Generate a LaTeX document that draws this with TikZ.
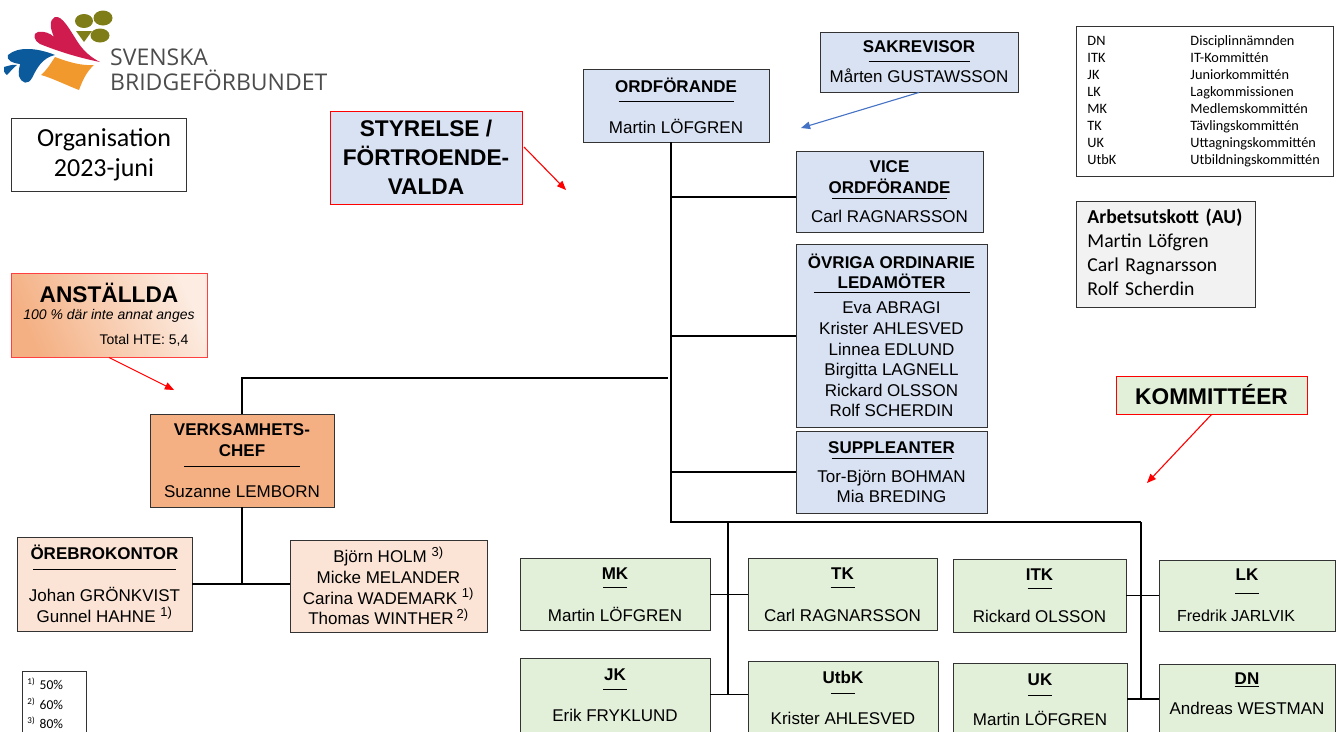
\documentclass[tikz,border=0pt]{standalone}
\usepackage{fontspec}
\setmainfont{Liberation Sans}
\newfontfamily\carlito{Carlito}
\newfontfamily\logofont{Open Sans}
\usepackage{tikz}
\usetikzlibrary{arrows}
\definecolor{blue1}{HTML}{D9E2F3}
\definecolor{blue2}{HTML}{4472C4}
\definecolor{green1}{HTML}{E2EFD9}
\definecolor{peach1}{HTML}{FBE4D5}
\definecolor{peach2}{HTML}{F4B083}
\definecolor{logoolive}{HTML}{7F7D18}
\definecolor{logored}{HTML}{CF1B4E}
\definecolor{logoblue}{HTML}{0B5A9C}
\definecolor{logoorange}{HTML}{F2992E}
\newcommand{\hd}[4]{#1\\[#2pt]\rule{#3pt}{0.8pt}\\[#4pt]}
\newcommand{\sps}[1]{\textsuperscript{\fontsize{9}{9}\selectfont #1)}}
\newcommand{\spt}[1]{\textsuperscript{\fontsize{13}{13}\selectfont #1)}}

\begin{document}
\begin{tikzpicture}
		[x=1pt,y=-1pt,
		b/.style= {rectangle,draw=black!80,line width=0.9pt,inner sep=0pt,align=center,font=\fontsize{17}{20.6}\selectfont},
		bb/.style= {b,fill=blue1},
		bg/.style= {b,fill=green1},
		bp/.style= {b,fill=peach1},
		tag/.style= {b,draw=red,font=\fontsize{22.7}{29}\selectfont\bfseries},
		cal/.style= {rectangle,draw=black!80,line width=0.9pt,inner sep=0pt,align=left,font=\carlito},
		lin/.style= {draw=black,line width=1.1pt},
		redarr/.style= {draw=red,line width=1.1pt,-triangle 45},
		bluearr/.style= {draw=blue2,line width=1.1pt,-triangle 45}]

		\useasboundingbox (0,0) rectangle (1336,731);
		\clip (0,0) rectangle (1336,731);

		% logo
		\fill[logoolive] (84,21) ellipse (9 and 7);
		\fill[logoolive] (103,18) ellipse (9.5 and 7.5);
		\fill[logoolive] (100,35.5) ellipse (9.5 and 7);
		\fill[logoolive] (76,31) -- (92,31) -- (84,42) -- cycle;
		\fill[logored] (55,17) .. controls (62,15) and (70,30) .. (77,41) .. controls (84,52) and (92,58) .. (100,62)
			.. controls (80,58) and (60,52) .. (40,44) .. controls (34,41) and (32,33) .. (38,32)
			.. controls (44,31) and (50,33) .. (54,37) .. controls (50,28) and (49,20) .. (55,17) -- cycle;
		\fill[logoblue] (8,55) .. controls (18,46) and (38,48) .. (55,55) .. controls (42,58) and (37,68) .. (32,78)
			.. controls (28,85) and (22,84) .. (19,76) .. controls (18,70) and (20,66) .. (20,64)
			.. controls (12,63) and (6,60) .. (8,55) -- cycle;
		\fill[logoblue] (4,67) .. controls (8,66) and (13,64) .. (17,65) .. controls (13,68) and (10,72) .. (7,75)
			.. controls (4,73) and (3,70) .. (4,67) -- cycle;
		\fill[logoorange] (55,57) .. controls (68,62) and (82,66) .. (94,65) .. controls (86,72) and (82,82) .. (79,90)
			.. controls (66,85) and (52,78) .. (41,75) .. controls (47,70) and (51,63) .. (55,57) -- cycle;
		\node[inner sep=0pt,anchor=base west,text=black!70,font=\logofont\fontsize{23}{24}\selectfont] (svenska) at (110,65) {SVENSKA};
		\node[inner sep=0pt,anchor=base west,text=black!70,font=\logofont\fontsize{23}{24}\selectfont] (sbf) at (110,90) {BRIDGEFÖRBUNDET};

		\node[cal,align=center,minimum width=175,minimum height=73,font=\carlito\fontsize{26}{30}\selectfont] (org) at (99,155) {\hspace*{10pt}Organisation\\\hspace*{10pt}2023-juni}
		;

		% styrelse
		\node[tag,fill=blue1,minimum width=192,minimum height=93] (styr) at (426,157.5) {STYRELSE /\\FÖRTROENDE-\\VALDA}
		;
		\coordinate (styrend) at (566,190);
		\draw[redarr] (524,147) -- (styrend);

		\node[bb,minimum width=186,minimum height=73] (ordf) at (676,105.5) {\hd{\textbf{ORDFÖRANDE}}{-10.6}{115}{10.4}Martin LÖFGREN}
		;
		\node[bb,minimum width=198,minimum height=60] (sak) at (919,62) {\hd{\textbf{SAKREVISOR}}{-11.6}{101}{0.4}Mårten GUSTAWSSON}
		;
		\coordinate (sakend) at (801,128);
		\draw[bluearr] (sak.south) -- (sakend);

		\node[bb,minimum width=187,minimum height=81] (vice) at (889.5,191.5) {\hd{\textbf{VICE}\\\textbf{ORDFÖRANDE}}{-14.6}{115}{2.4}Carl RAGNARSSON}
		;
		\node[bb,minimum width=191,minimum height=183] (ovr) at (891.5,335.5) {\hd{\textbf{ÖVRIGA ORDINARIE}\\\textbf{LEDAMÖTER}}{-16.6}{156}{0.4}Eva ABRAGI\\Krister AHLESVED\\Linnea EDLUND\\Birgitta LAGNELL\\Rickard OLSSON\\Rolf SCHERDIN}
		;
		\node[bb,minimum width=191,minimum height=82] (supp) at (891.5,472) {\hd{\textbf{SUPPLEANTER}}{-14.6}{120}{2.4}Tor-Björn BOHMAN\\Mia BREDING}
		;

		% trunk from the chairman
		\coordinate (t1) at (671,197);
		\coordinate (t2) at (671,336);
		\coordinate (t3) at (668,378);
		\coordinate (t4) at (671,472);
		\coordinate (t5) at (671,522);
		\coordinate (t6) at (728,522);
		\coordinate (t7) at (1141,522);
		\draw[lin] (ordf.south -| t1) -- (t5) -- (t7);
		\draw[lin] (t1) -- (t1 -| vice.west);
		\draw[lin] (t2) -- (t2 -| ovr.west);
		\draw[lin] (t4) -- (t4 -| supp.west);

		% anstallda
		\node[draw=red!75,line width=1pt,inner sep=0pt,align=center,minimum width=196,minimum height=84,left color=peach2,right color=peach1!70,shading angle=115] (anst) at (109,315) {};
		\node[inner sep=0pt,font=\fontsize{22.7}{26}\selectfont\bfseries] (anst1) at (109,293) {ANSTÄLLDA};
		\node[inner sep=0pt,font=\fontsize{14}{16}\selectfont\itshape] (anst2) at (109,316) {100 \% där inte annat anges};
		\node[inner sep=0pt,font=\fontsize{14}{16}\selectfont] (anst3) at (144,340) {Total HTE: 5,4};
		\coordinate (anstend) at (174,390);
		\draw[redarr] (anst.south) -- (anstend);

		\node[b,fill=peach2,minimum width=184,minimum height=93] (verk) at (242,460.5) {\hd{\textbf{VERKSAMHETS-}\\\textbf{CHEF}}{-9.6}{116}{9.4}Suzanne LEMBORN}
		;
		\coordinate (v1) at (242,378);
		\coordinate (v2) at (242,584);
		\draw[lin] (verk.north) -- (v1) -- (t3);

		\node[bp,minimum width=175,minimum height=94] (oreb) at (104.5,584) {\hd{\textbf{ÖREBROKONTOR}}{-10.6}{143}{11.4}Johan GRÖNKVIST\\Gunnel HAHNE \spt{1}}
		;
		\node[bp,minimum width=197,minimum height=92] (holm) at (388.5,586) {Björn HOLM \spt{3}\\Micke MELANDER\\Carina WADEMARK \spt{1}\\Thomas WINTHER\,\spt{2}}
		;
		\draw[lin] (verk.south) -- (v2);
		\draw[lin] (oreb.east |- v2) -- (holm.west |- v2);

		% legend at the bottom
		\node[cal,anchor=north west,minimum width=64,minimum height=64,text width=54,font=\carlito\fontsize{13.5}{19.5}\selectfont] (fot) at (22,671) {\sps{1} 50\%\\\sps{2} 60\%\\\sps{3} 80\%}
		;

		% legend at the top
		\node[cal,anchor=north west,minimum width=257,minimum height=150,text width=235,font=\carlito\fontsize{14.3}{17}\selectfont] (leg) at (1076,26) {\begin{tabular}{@{}p{103pt}@{}l@{}}
			DN & Disciplinnämnden\\ITK & IT-Kommittén\\JK & Juniorkommittén\\LK & Lagkommissionen\\
			MK & Medlemskommittén\\TK & Tävlingskommittén\\UK & Uttagningskommittén\\UtbK & Utbildningskommittén
			\end{tabular}}
		;
		\node[cal,anchor=north west,fill=black!5,minimum width=179,minimum height=106,text width=157,font=\carlito\fontsize{19.7}{24}\selectfont] (au) at (1076,201) {\begin{tabular}{@{}l@{}}
			\textbf{Arbetsutskott (AU)}\\Martin Löfgren\\Carl Ragnarsson\\Rolf Scherdin
			\end{tabular}}
		;

		% kommitteer
		\node[tag,fill=green1,minimum width=191,minimum height=38] (komm) at (1211.5,395) {KOMMITTÉER}
		;
		\coordinate (kommend) at (1147,483);
		\draw[redarr] (komm.south) -- (kommend);

		\node[bg,minimum width=190,minimum height=72] (mk) at (615,594.5) {\hd{\textbf{MK}}{-11.6}{24}{12.4}Martin LÖFGREN}
		;
		\node[bg,minimum width=189,minimum height=72] (tk) at (842.5,594.5) {\hd{\textbf{TK}}{-11.6}{24}{12.4}Carl RAGNARSSON}
		;
		\node[bg,minimum width=173,minimum height=73] (itk) at (1039.5,595.5) {\hd{\textbf{ITK}}{-11.6}{24}{12.4}Rickard OLSSON}
		;
		\node[bg,minimum width=176,minimum height=71] (lk) at (1247,595.5) {\hd{\textbf{LK}}{-7.6}{24}{7.4}\fontsize{16}{20.6}\selectfont Fredrik JARLVIK\hspace*{22pt}}
		;
		\node[bg,minimum width=190,minimum height=74] (jk) at (615,695) {\hd{\textbf{JK}}{-10.6}{24}{10.4}Erik FRYKLUND}
		;
		\node[bg,minimum width=190,minimum height=74] (utbk) at (843,698) {\hd{\textbf{UtbK}}{-10.6}{24}{10.4}Krister AHLESVED}
		;
		\node[bg,minimum width=174,minimum height=74] (uk) at (1040,700) {\hd{\textbf{UK}}{-10.6}{24}{9.4}Martin LÖFGREN}
		;
		\node[bg,minimum width=176,minimum height=80] (dn) at (1247,704) {\textbf{\underline{DN}}\\[9.4pt]Andreas WESTMAN\\\mbox{}}
		;

		\coordinate (k1) at (728,694.5);
		\coordinate (k2) at (1141,699);
		\draw[lin] (t6) -- (k1);
		\draw[lin] (t7) -- (k2);
		\draw[lin] (mk.east) -- (tk.west);
		\draw[lin] (jk.east |- k1) -- (utbk.west |- k1);
		\draw[lin] (itk.east) -- (lk.west);
		\draw[lin] (uk.east |- k2) -- (dn.west |- k2);

	\end{tikzpicture}
\end{document}
